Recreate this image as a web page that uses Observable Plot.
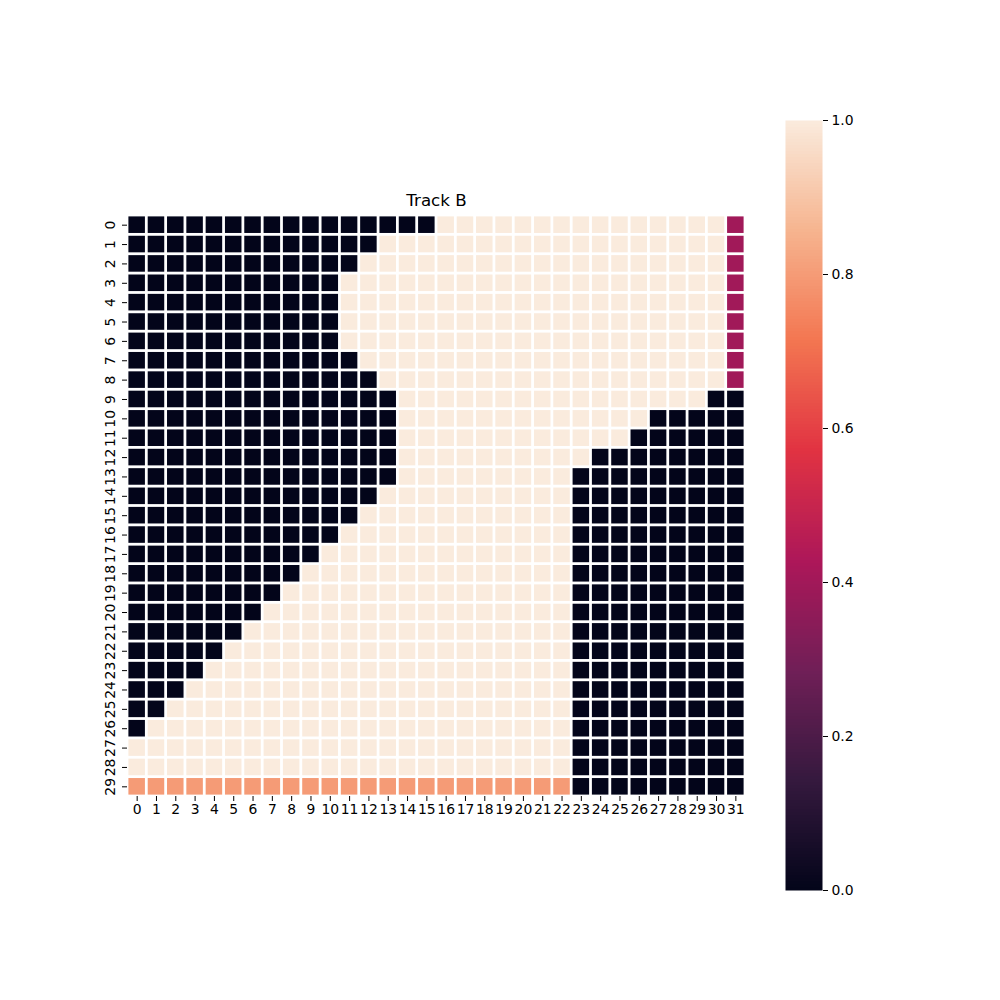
<!DOCTYPE html>
<html><head><meta charset="utf-8">
<script src="https://cdn.jsdelivr.net/npm/d3@7"></script>
<script src="https://cdn.jsdelivr.net/npm/@observablehq/plot@0.6"></script>
<style>
body{margin:0;background:#fff;}
#wrap{position:relative;width:1000px;height:1000px;background:#fff;}
#wrap > svg{position:absolute;top:0;}
</style></head><body><div id="wrap"></div>
<script>
// Row / column tick labels
const rowLabels = d3.range(30);
const colLabels = d3.range(32);
// Cell codes ("0" dark, "1" light, "m" magenta, "s" salmon)
const codeValues = {"0": 0, "1": 1, "m": 0.4, "s": 0.8};
const gridRows = [
  "0000 0000 0000 0000 1111 1111 1111 111m",
  "0000 0000 0000 0111 1111 1111 1111 111m",
  "0000 0000 0000 1111 1111 1111 1111 111m",
  "0000 0000 0001 1111 1111 1111 1111 111m",
  "0000 0000 0001 1111 1111 1111 1111 111m",
  "0000 0000 0001 1111 1111 1111 1111 111m",
  "0000 0000 0001 1111 1111 1111 1111 111m",
  "0000 0000 0000 1111 1111 1111 1111 111m",
  "0000 0000 0000 0111 1111 1111 1111 111m",
  "0000 0000 0000 0011 1111 1111 1111 1100",
  "0000 0000 0000 0011 1111 1111 1110 0000",
  "0000 0000 0000 0011 1111 1111 1100 0000",
  "0000 0000 0000 0011 1111 1111 0000 0000",
  "0000 0000 0000 0011 1111 1110 0000 0000",
  "0000 0000 0000 0111 1111 1110 0000 0000",
  "0000 0000 0000 1111 1111 1110 0000 0000",
  "0000 0000 0001 1111 1111 1110 0000 0000",
  "0000 0000 0011 1111 1111 1110 0000 0000",
  "0000 0000 0111 1111 1111 1110 0000 0000",
  "0000 0000 1111 1111 1111 1110 0000 0000",
  "0000 0001 1111 1111 1111 1110 0000 0000",
  "0000 0011 1111 1111 1111 1110 0000 0000",
  "0000 0111 1111 1111 1111 1110 0000 0000",
  "0000 1111 1111 1111 1111 1110 0000 0000",
  "0001 1111 1111 1111 1111 1110 0000 0000",
  "0011 1111 1111 1111 1111 1110 0000 0000",
  "0111 1111 1111 1111 1111 1110 0000 0000",
  "1111 1111 1111 1111 1111 1110 0000 0000",
  "1111 1111 1111 1111 1111 1110 0000 0000",
  "ssss ssss ssss ssss ssss sss0 0000 0000"
];
const colorbarTicks = [0, 0.2, 0.4, 0.6, 0.8, 1.0];
const titleText = "Track B";

// rocket colormap stops
const rocketStops = ["#03051a", "#35193e", "#701f57", "#ad1759", "#e13342", "#f37651", "#f6b48f", "#faebdd"];
const rocketInterp = d3.piecewise(d3.interpolateRgb, rocketStops);
const rocket = (t) => rocketInterp(t);

const cells = [];
gridRows.forEach((s, r) => {
  s.replace(/ /g, "").split("").forEach((ch, c) => {
    cells.push({row: rowLabels[r], col: colLabels[c], value: codeValues[ch]});
  });
});

const FS = 13.9;
const font = {fontFamily: "'DejaVu Sans', sans-serif", fontSize: FS + "px", background: "transparent", color: "black"};

const main = Plot.plot({
  width: 770, height: 1000,
  marginLeft: 127, marginRight: 25, marginTop: 215, marginBottom: 204,
  style: font,
  x: {type: "band", domain: colLabels, padding: 0, round: false, label: null},
  y: {type: "band", domain: rowLabels, padding: 0, round: false, label: null},
  color: {type: "linear", domain: [0, 1], interpolate: rocket},
  marks: [
    Plot.cell(cells, {x: "col", y: "row", fill: "value", inset: 1.4}),
    Plot.axisX({tickSize: 5, tickPadding: 3, label: null, fontSize: FS}),
    Plot.axisY({tickSize: 5, tickPadding: 8, tickRotate: -90, label: null, fontSize: FS}),
    Plot.text([titleText], {frameAnchor: "top", lineAnchor: "bottom", dy: -10, fontSize: 16.7, fill: "black"})
  ]
});
main.style.left = "0px";

const cbar = Plot.plot({
  width: 230, height: 1000,
  marginLeft: 15, marginRight: 178, marginTop: 120, marginBottom: 110,
  style: font,
  x: {domain: [0, 1], axis: null},
  y: {domain: [0, 1], label: null, axis: null},
  color: {type: "linear", domain: [0, 1], interpolate: rocket},
  marks: [
    Plot.raster({x1: 0, x2: 1, y1: 0, y2: 1, width: 4, height: 256, fill: (x, y) => y, imageRendering: "pixelated"}),
    Plot.axisY(colorbarTicks, {anchor: "right", tickSize: 5, tickPadding: 4, tickFormat: ".1f", label: null, fontSize: FS})
  ]
});
cbar.style.left = "770px";

const wrap = document.getElementById("wrap");
wrap.appendChild(main);
wrap.appendChild(cbar);
</script>
</body></html>
